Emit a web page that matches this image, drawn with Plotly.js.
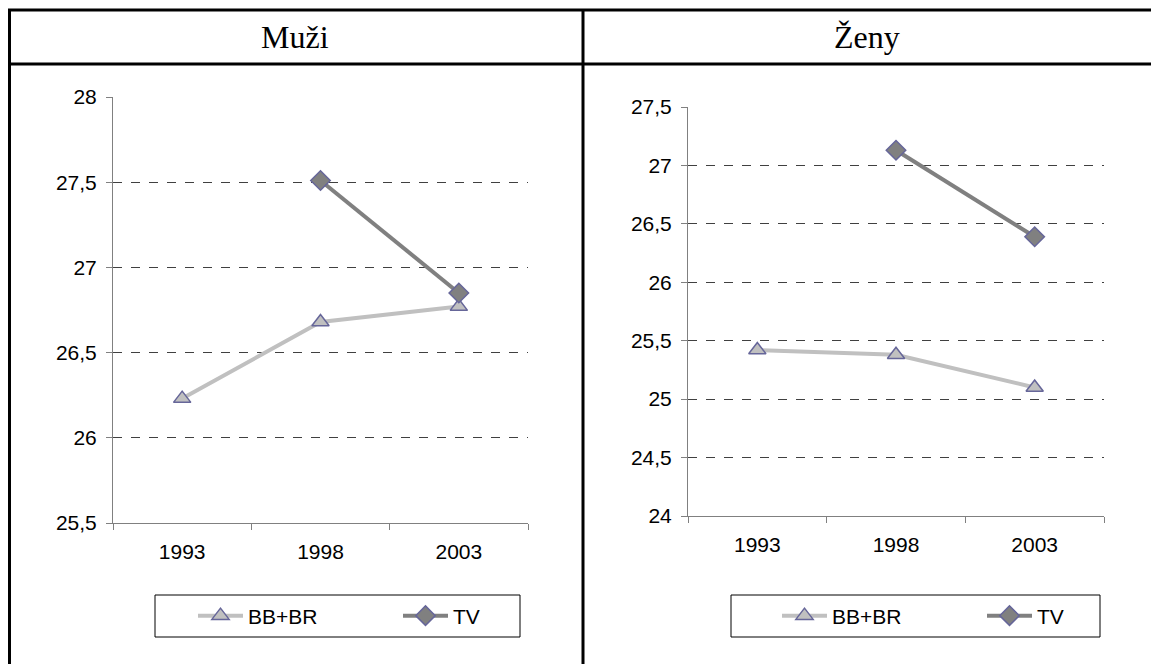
<!DOCTYPE html>
<html lang="cs">
<head>
    <meta charset="UTF-8">
    <title>Muži / Ženy</title>
    <script src="https://cdn.plot.ly/plotly-3.0.1.min.js"></script>
    <style>
        html, body { margin: 0; padding: 0; overflow: hidden; background: white; }
        #myDiv { width: 1151px; height: 664px; }
    </style>
</head>
<body>
    <div id="myDiv"></div>
    <script>
        // data
        var years = ['1993', '1998', '2003']
        var muziBB = [26.23, 26.68, 26.77]
        var muziTV = [null, 27.51, 26.85]
        var zenyBB = [25.42, 25.38, 25.10]
        var zenyTV = [null, 27.13, 26.39]
        var names = ['BB+BR', 'TV']
        var panelTitles = ['Muži', 'Ženy']

        var W = 1151, H = 664
        function X(p) { return p / W }
        function Y(p) { return 1 - p / H }

        var sans = 'Liberation Sans, Arial, sans-serif'
        var serif = 'Liberation Serif, Times New Roman, serif'

        function bbTrace(y, xa, ya, lg) {
            return {
                x: years, y: y, xaxis: xa, yaxis: ya, legend: lg,
                name: names[0], mode: 'lines+markers',
                line: { color: '#c0c0c0', width: 4 },
                marker: { symbol: 'triangle-up', size: 15, color: '#c0c0c0',
                          line: { color: '#666699', width: 1.5 } }
            }
        }
        function tvTrace(y, xa, ya, lg) {
            return {
                x: years, y: y, xaxis: xa, yaxis: ya, legend: lg,
                name: names[1], mode: 'lines+markers',
                line: { color: '#808080', width: 4 },
                marker: { symbol: 'diamond', size: 15, color: '#808080',
                          line: { color: '#666699', width: 1.5 } }
            }
        }

        var data = [
            bbTrace(muziBB, 'x', 'y', 'legend'),
            tvTrace(muziTV, 'x', 'y', 'legend'),
            bbTrace(zenyBB, 'x2', 'y2', 'legend2'),
            tvTrace(zenyTV, 'x2', 'y2', 'legend2')
        ]

        function xAxis(x0, x1, anchor) {
            return {
                domain: [X(x0), X(x1)], anchor: anchor,
                type: 'category', categoryarray: years, range: [-0.5, 2.5],
                tickson: 'boundaries', ticks: 'outside', ticklen: 6,
                tickcolor: '#808080', showline: true, linecolor: '#808080',
                showgrid: false, zeroline: false, fixedrange: true,
                ticklabelstandoff: 10,
                tickfont: { family: sans, size: 21, color: '#000' }
            }
        }
        function yAxis(y0, y1, range, anchor) {
            return {
                domain: [Y(y0), Y(y1)], anchor: anchor, range: range, dtick: 0.5,
                ticks: 'outside', ticklen: 6, tickcolor: '#808080',
                showline: true, linecolor: '#808080',
                showgrid: true, gridcolor: '#404040', griddash: 'dash', gridwidth: 1,
                zeroline: false, fixedrange: true,
                ticklabelstandoff: 5,
                tickfont: { family: sans, size: 21, color: '#000' }
            }
        }
        function legendBox(x0) {
            return {
                orientation: 'h', x: X(x0), y: Y(616), xanchor: 'left', yanchor: 'middle',
                bgcolor: 'rgba(0,0,0,0)', borderwidth: 0,
                itemwidth: 45, entrywidth: 145, entrywidthmode: 'pixels',
                font: { family: sans, size: 21, color: '#000' }
            }
        }
        function hline(y) {
            return { type: 'line', xref: 'paper', yref: 'paper',
                     x0: X(8), x1: 1, y0: Y(y), y1: Y(y),
                     line: { color: '#000', width: 3 } }
        }
        function vline(x) {
            return { type: 'line', xref: 'paper', yref: 'paper',
                     x0: X(x), x1: X(x), y0: Y(10), y1: 0,
                     line: { color: '#000', width: 3 } }
        }
        function frame(x0, x1) {
            return { type: 'rect', xref: 'paper', yref: 'paper',
                     x0: X(x0), x1: X(x1), y0: Y(637), y1: Y(595),
                     line: { color: '#000', width: 1 } }
        }
        function title(text, x) {
            return { text: text, xref: 'paper', yref: 'paper', x: X(x), y: Y(37),
                     xanchor: 'center', yanchor: 'middle', showarrow: false,
                     font: { family: serif, size: 32, color: '#000' } }
        }

        var layout = {
            width: W, height: H,
            margin: { l: 0, r: 0, t: 0, b: 0, autoexpand: false },
            paper_bgcolor: 'white', plot_bgcolor: 'white',
            separators: ', ',
            showlegend: true,
            xaxis: xAxis(113, 528, 'y'),
            yaxis: yAxis(523, 97, [25.5, 28], 'x'),
            xaxis2: xAxis(688, 1104, 'y2'),
            yaxis2: yAxis(516, 107, [24, 27.5], 'x2'),
            legend: legendBox(193),
            legend2: legendBox(777),
            shapes: [hline(10), hline(64), vline(9.5), vline(583),
                     frame(155, 520), frame(731, 1100)],
            annotations: [title(panelTitles[0], 295), title(panelTitles[1], 867)]
        }

        Plotly.newPlot('myDiv', data, layout, { displayModeBar: false, staticPlot: true })
    </script>
</body>
</html>
